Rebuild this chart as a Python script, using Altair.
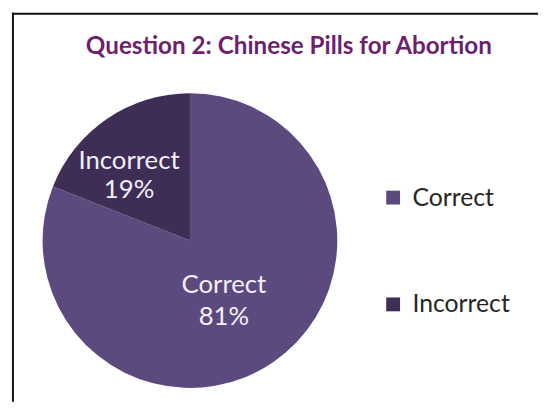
import altair as alt
import pandas as pd

# ---- data ----
categories = ["Correct", "Incorrect"]
values = [81, 19]
pct_labels = ["81%", "19%"]
colors = ["#5c4a7e", "#3e2d55"]
title_text = "Question 2: Chinese Pills for Abortion"

W, H = 536, 396
CX, CY, R = 184, 233, 149
FONT = "Lato"
TOTAL = sum(values)

df = pd.DataFrame({
    "category": categories,
    "value": values,
    "pct": pct_labels,
    "order": list(range(len(categories))),
})
df["label"] = df["category"] + "\n" + df["pct"]

color_scale = alt.Scale(domain=categories, range=colors)
theta_scale = alt.Scale(domain=[0, TOTAL])

pie = alt.Chart(df).mark_arc(radius=R, stroke=None).encode(
    theta=alt.Theta("value:Q", stack=True, scale=theta_scale),
    order=alt.Order("order:Q"),
    x=alt.value(CX),
    y=alt.value(CY),
    color=alt.Color(
        "category:N",
        scale=color_scale,
        legend=alt.Legend(
            title=None,
            orient="none",
            legendX=377,
            legendY=177,
            symbolType="square",
            symbolSize=196,
            symbolStrokeWidth=0,
            labelFontSize=25,
            labelFont=FONT,
            labelColor="#262626",
            labelOffset=7,
            rowPadding=82,
        ),
    ),
)

# mid-angle of each slice, computed before filtering
text_base = alt.Chart(df).transform_window(
    cum="sum(value)", sort=[alt.SortField("order")]
).transform_calculate(
    mid="datum.cum - datum.value / 2"
).encode(
    theta=alt.Theta("mid:Q", stack=False, scale=theta_scale),
    x=alt.value(CX),
    y=alt.value(CY),
    text="label:N",
)

lbl_correct = text_base.mark_text(
    radius=70, dx=-5, dy=-13, font=FONT, fontSize=26, color="#f2eff7",
    lineBreak="\n", lineHeight=32, align="center", baseline="middle",
).transform_filter(alt.datum.category == "Correct")

lbl_incorrect = text_base.mark_text(
    radius=90, dx=-11, dy=-6, font=FONT, fontSize=26, color="#f2eff7",
    lineBreak="\n", lineHeight=29, align="center", baseline="middle",
).transform_filter(alt.datum.category == "Incorrect")

one = pd.DataFrame({"t": [title_text]})

title = alt.Chart(one).mark_text(
    font=FONT, fontSize=24.5, fontWeight="bold", color="#6e1f6e",
    align="center", baseline="middle",
).encode(text="t:N", x=alt.value(284), y=alt.value(37))

top_border = alt.Chart(one).mark_rule(color="#111111", strokeWidth=2).encode(
    x=alt.value(4), x2=alt.value(W), y=alt.value(3.5)
)
left_border = alt.Chart(one).mark_rule(color="#111111", strokeWidth=2).encode(
    x=alt.value(5), y=alt.value(2.5), y2=alt.value(H)
)

chart = alt.layer(
    top_border, left_border, pie, lbl_correct, lbl_incorrect, title
).properties(
    width=W, height=H, padding=0, background="white"
).configure_view(stroke=None)

chart.save("out.html", embed_options={"renderer": "svg", "actions": False})
